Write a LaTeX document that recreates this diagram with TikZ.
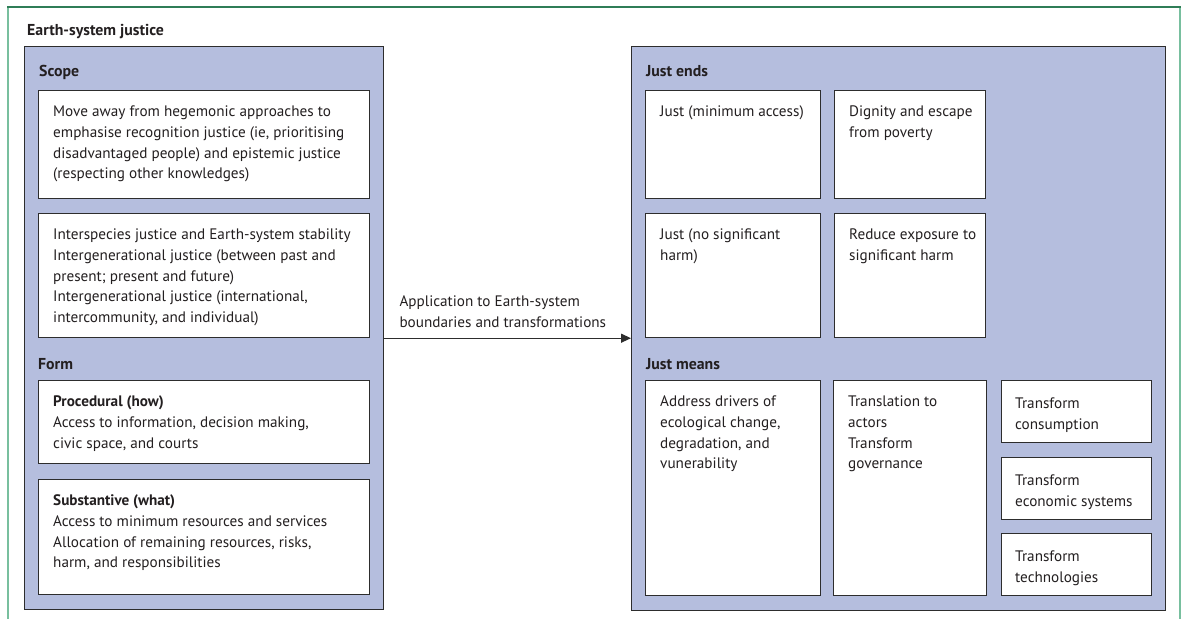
\documentclass[tikz,border=0pt]{standalone}
\usepackage{fontspec}
\setmainfont{PT Sans}
\usetikzlibrary{arrows.meta,calc}
\definecolor{fillblue}{RGB}{181,190,222}
\definecolor{frametop}{RGB}{47,125,87}
\definecolor{frameside}{RGB}{120,191,158}
\definecolor{edge}{RGB}{45,45,45}
\definecolor{ink}{RGB}{35,31,32}
\begin{document}
\begin{tikzpicture}[x=1pt,y=-1pt,
  outer/.style={draw=edge, line width=1.3pt, fill=fillblue, inner sep=0pt, anchor=north west},
  inbox/.style={draw=edge, line width=1.2pt, fill=white, inner sep=0pt, anchor=north west},
  txt/.style={anchor=north west, inner sep=0pt, align=left, text=ink, font=\fontsize{15.2}{20.7}\selectfont},
  head/.style={anchor=base west, inner sep=0pt, text=ink, font=\fontsize{15.8}{18}\selectfont\bfseries},
  frameline/.style={line width=1.5pt},
  arr/.style={draw=edge, line width=1.3pt, -{Triangle[length=10pt,width=9pt]}}
]
\useasboundingbox (0,0) rectangle (1184,619);
% frame
\draw[frameline, frameside] (8,7) -- (8,619);
\draw[frameline, frameside] (1180,7) -- (1180,619);
\draw[frameline, frametop] (7.25,7) -- (1180.75,7);

\node[head] (title) at (27,35) {Earth-system justice};

% left block
\node[outer, minimum width=359pt, minimum height=563pt] (lbox) at (24,46) {};
\node[head] (scope) at (39,76) {Scope};
\node[inbox, minimum width=331pt, minimum height=108pt] (s1) at (38,90) {};
\node[inbox, minimum width=331pt, minimum height=124pt] (s2) at (38,213) {};
\node[head] (form) at (38,369) {Form};
\node[inbox, minimum width=331pt, minimum height=83pt] (f1) at (38,380) {};
\node[inbox, minimum width=331pt, minimum height=115pt] (f2) at (38,479) {};

\node[txt] (s1t) at ($(s1.north west)+(15,12)$) {\strut Move away from hegemonic approaches to\\ emphasise recognition justice (ie, prioritising\\ disadvantaged people) and epistemic justice\\ (respecting other knowledges)};
\node[txt] (s2t) at ($(s2.north west)+(15,12)$) {\strut Interspecies justice and Earth-system stability\\ Intergenerational justice (between past and\\ present; present and future)\\ Intergenerational justice (international,\\ intercommunity, and individual)};
\node[txt] (f1t) at ($(f1.north west)+(15,12)$) {\strut\textbf{Procedural (how)}\\ Access to information, decision making,\\ civic space, and courts};
\node[txt] (f2t) at ($(f2.north west)+(15,12)$) {\strut\textbf{Substantive (what)}\\ Access to minimum resources and services\\ Allocation of remaining resources, risks,\\ harm, and responsibilities};

% right block
\node[outer, minimum width=534pt, minimum height=564pt] (rbox) at (631,46) {};
\node[head] (ends) at (646,76) {Just ends};
\node[inbox, minimum width=175pt, minimum height=108pt] (eA) at (645,90) {};
\node[inbox, minimum width=151pt, minimum height=108pt] (eB) at (834,90) {};
\node[inbox, minimum width=175pt, minimum height=124pt] (eC) at (645,213) {};
\node[inbox, minimum width=151pt, minimum height=124pt] (eD) at (834,213) {};
\node[head] (means) at (646,369) {Just means};
\node[inbox, minimum width=175pt, minimum height=215pt] (mE) at (645,380) {};
\node[inbox, minimum width=153pt, minimum height=215pt] (mF) at (833,380) {};
\node[inbox, minimum width=150pt, minimum height=62pt] (mG) at (1001,380) {};
\node[inbox, minimum width=150pt, minimum height=62pt] (mH) at (1001,457) {};
\node[inbox, minimum width=150pt, minimum height=62pt] (mI) at (1001,533) {};

\node[txt] (eAt) at ($(eA.north west)+(15,12)$) {\strut Just (minimum access)};
\node[txt] (eBt) at ($(eB.north west)+(15,12)$) {\strut Dignity and escape\\ from poverty};
\node[txt] (eCt) at ($(eC.north west)+(15,12)$) {\strut Just (no significant\\ harm)};
\node[txt] (eDt) at ($(eD.north west)+(15,12)$) {\strut Reduce exposure to\\ significant harm};
\node[txt] (mEt) at ($(mE.north west)+(15,12)$) {\strut Address drivers of\\ ecological change,\\ degradation, and\\ vunerability};
\node[txt] (mFt) at ($(mF.north west)+(15,12)$) {\strut Translation to\\ actors\\ Transform\\ governance};
\node[txt] (mGt) at ($(mG.north west)+(14,14)$) {\strut Transform\\ consumption};
\node[txt] (mHt) at ($(mH.north west)+(14,14)$) {\strut Transform\\ economic systems};
\node[txt] (mIt) at ($(mI.north west)+(14,14)$) {\strut Transform\\ technologies};

% connector
\draw[arr] (lbox.east |- s2.south) -- (rbox.west |- s2.south);
\node[txt] (arrlab) at ($(lbox.east |- s2.south)+(15,-46.5)$) {\strut Application to Earth-system\\ boundaries and transformations};
\end{tikzpicture}
\end{document}
